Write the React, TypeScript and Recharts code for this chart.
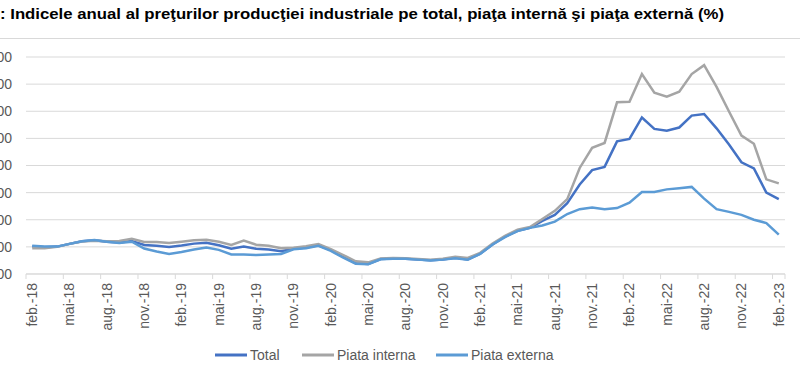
import React from 'react';
import { LineChart, Line, XAxis, YAxis, CartesianGrid } from 'recharts';

// feb.-18 ... feb.-23, monthly
const months = [
  'feb.-18', 'mar.-18', 'apr.-18', 'mai-18', 'iun.-18', 'iul.-18', 'aug.-18', 'sept.-18', 'oct.-18', 'nov.-18', 'dec.-18',
  'ian.-19', 'feb.-19', 'mar.-19', 'apr.-19', 'mai-19', 'iun.-19', 'iul.-19', 'aug.-19', 'sept.-19', 'oct.-19', 'nov.-19', 'dec.-19',
  'ian.-20', 'feb.-20', 'mar.-20', 'apr.-20', 'mai-20', 'iun.-20', 'iul.-20', 'aug.-20', 'sept.-20', 'oct.-20', 'nov.-20', 'dec.-20',
  'ian.-21', 'feb.-21', 'mar.-21', 'apr.-21', 'mai-21', 'iun.-21', 'iul.-21', 'aug.-21', 'sept.-21', 'oct.-21', 'nov.-21', 'dec.-21',
  'ian.-22', 'feb.-22', 'mar.-22', 'apr.-22', 'mai-22', 'iun.-22', 'iul.-22', 'aug.-22', 'sept.-22', 'oct.-22', 'nov.-22', 'dec.-22',
  'ian.-23', 'feb.-23',
];

const total = [
  100.1, 99.9, 100.1, 101.1, 102.1, 102.4, 101.9, 101.6, 102.2, 100.7,
  100.4, 100.0, 100.5, 101.2, 101.5, 100.6, 99.3, 100.1, 99.3, 99.0,
  98.4, 99.3, 99.8, 100.6, 98.8, 96.3, 94.0, 93.7, 95.5, 95.7,
  95.6, 95.3, 95.1, 95.3, 96.0, 95.4, 97.5, 100.9, 103.8, 105.9,
  107.0, 109.6, 111.8, 116.1, 123.0, 128.3, 129.5, 138.9, 139.8, 147.7,
  143.5, 142.8, 144.0, 148.4, 149.0, 143.7, 137.7, 131.2, 128.9, 120.0, 117.6,
];

const piataInterna = [
  99.5, 99.5, 100.0, 101.1, 102.0, 102.3, 102.1, 102.2, 103.0, 101.8,
  101.8, 101.4, 101.9, 102.4, 102.6, 101.9, 100.7, 102.3, 100.8, 100.4,
  99.5, 99.7, 100.2, 101.0, 99.2, 97.0, 94.7, 94.3, 95.7, 95.9,
  95.8, 95.5, 95.3, 95.6, 96.4, 95.9, 97.8, 101.2, 104.1, 106.3,
  107.3, 110.3, 113.3, 117.6, 129.1, 136.5, 138.3, 153.3, 153.5, 163.7,
  156.8, 155.4, 157.2, 163.7, 167.0, 159.0, 149.9, 141.0, 138.0, 124.9, 123.4,
];

const piataExterna = [
  100.4, 100.1, 100.1, 101.1, 102.1, 102.5, 101.9, 101.4, 101.9, 99.4,
  98.3, 97.4, 98.1, 99.0, 99.8, 98.9, 97.2, 97.2, 97.0, 97.2,
  97.4, 99.1, 99.5, 100.4, 98.5, 96.0, 93.8, 93.6, 95.4, 95.6,
  95.6, 95.3, 95.0, 95.3, 95.8, 95.3, 97.4, 100.9, 103.6, 105.8,
  107.0, 107.9, 109.3, 112.1, 113.9, 114.5, 113.9, 114.3, 116.3, 120.2,
  120.2, 121.2, 121.6, 122.1, 117.8, 113.9, 112.9, 111.8, 110.0, 108.8, 104.5,
];

const yTicks = [90, 100, 110, 120, 130, 140, 150, 160, 170];

const data = months.map((m, i) => ({
  month: m,
  total: total[i],
  interna: piataInterna[i],
  externa: piataExterna[i],
}));

const FONT = '"Liberation Sans", Arial, sans-serif';
const GRID = '#d9d9d9';
const HALF = 6.22;

const XTick = (props: any) => {
  const { x, y, payload, index } = props;
  const last = payload.index === months.length - 1;
  return (
    <g>
      <line x1={x - HALF} x2={x - HALF} y1={y} y2={y + 5} stroke={GRID} />
      {last && <line x1={x + HALF} x2={x + HALF} y1={y} y2={y + 5} stroke={GRID} />}
      <text
        x={x}
        y={y + 9}
        dy="0.35em"
        transform={`rotate(-90, ${x}, ${y + 9})`}
        textAnchor="end"
        fill="#595959"
        fontSize={14}
        fontFamily={FONT}
      >
        {payload.value}
      </text>
    </g>
  );
};

const legendItems = [
  { name: 'Total', color: '#4472c4' },
  { name: 'Piata interna', color: '#a5a5a5' },
  { name: 'Piata externa', color: '#5b9bd5' },
];

export default function App() {
  return (
    <div style={{ position: 'fixed', left: 0, top: 0, width: 800, height: 376, overflow: 'hidden', background: '#fff' }}>
      <svg width={800} height={30} style={{ position: 'absolute', left: 0, top: 0 }}>
        <text x={0} y={19} fontSize={15} fontWeight="bold" fontFamily={FONT} fill="#000" textLength={724} lengthAdjust="spacingAndGlyphs">
          : Indicele anual al preţurilor producţiei industriale pe total, piaţa internă şi piaţa externă (%)
        </text>
      </svg>
      <div style={{ position: 'absolute', left: 0, top: 38, width: 800, borderTop: `1px solid ${GRID}` }} />
      <div style={{ position: 'absolute', left: -40, top: 0 }}>
        <LineChart width={840} height={376} data={data} margin={{ top: 57, right: 15, bottom: 42, left: 0 }}>
          <CartesianGrid horizontal vertical={false} stroke={GRID} />
          <XAxis
            dataKey="month"
            interval={2}
            padding={{ left: HALF, right: HALF }}
            height={60}
            axisLine={{ stroke: GRID }}
            tickLine={false}
            tickSize={0}
            tickMargin={0}
            tick={(p: any) => <XTick {...p} />}
          />
          <YAxis
            domain={[90, 170]}
            ticks={yTicks}
            width={66}
            axisLine={false}
            tickLine={false}
            tickSize={0}
            tickMargin={14}
            tickFormatter={(v: number) => v.toFixed(2).replace('.', ',')}
            tick={{ fill: '#595959', fontSize: 14, fontFamily: FONT }}
          />
          <Line dataKey="total" stroke="#4472c4" strokeWidth={2.5} dot={false} isAnimationActive={false} />
          <Line dataKey="interna" stroke="#a5a5a5" strokeWidth={2.5} dot={false} isAnimationActive={false} />
          <Line dataKey="externa" stroke="#5b9bd5" strokeWidth={2.5} dot={false} isAnimationActive={false} />
        </LineChart>
      </div>
      <svg width={800} height={30} style={{ position: 'absolute', left: 0, top: 341 }}>
        {legendItems.map((it, i) => {
          const lx = [215, 302, 436][i];
          return (
            <g key={it.name}>
              <line x1={lx} x2={lx + 32} y1={14} y2={14} stroke={it.color} strokeWidth={3} />
              <text x={lx + 35} y={19} fontSize={14} fontFamily={FONT} fill="#595959">
                {it.name}
              </text>
            </g>
          );
        })}
      </svg>
    </div>
  );
}
